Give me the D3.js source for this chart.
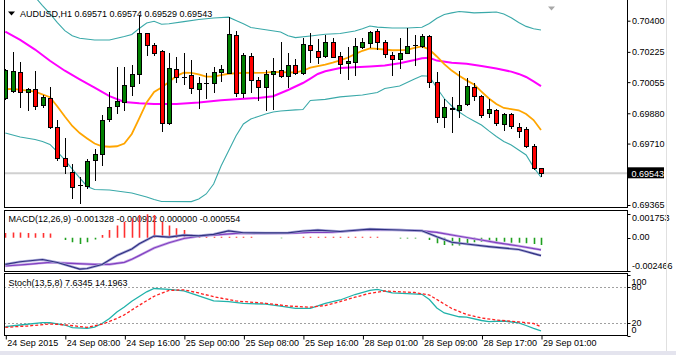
<!DOCTYPE html>
<html><head><meta charset="utf-8">
<script src="https://cdn.jsdelivr.net/npm/d3@7"></script>
<style>
body{margin:0;background:#fff;}
svg{display:block;}
text{font-family:"Liberation Sans",Arial,sans-serif;font-size:9px;fill:#000;}
</style>
</head><body>
<svg id="c" width="676" height="355"></svg>
<script>
// ---------- DATA ----------
const symbolTitle = "AUDUSD,H1 0.69571 0.69574 0.69529 0.69543";
const macdTitle = "MACD(12,26,9) -0.001328 -0.000902 0.000000 -0.000554";
const stochTitle = "Stoch(13,5,8) 7.6345 14.1963";

const openP = [0.69966,0.70007,0.70114,0.70001,0.70015,0.69927,0.69968,0.69805,0.69627,0.69549,
0.69476,0.69472,0.69618,0.69650,0.69846,0.69921,0.69945,0.70033,0.70099,0.70329,
0.70264,0.70232,0.69824,0.70131,0.70085,0.70093,0.70017,0.70052,0.70049,0.70112,
0.70108,0.70320,0.69992,0.70204,0.70067,0.70029,0.70099,0.70123,0.70091,0.70151,
0.70105,0.70264,0.70232,0.70204,0.70282,0.70202,0.70161,0.70170,0.70254,0.70277,
0.70344,0.70279,0.70207,0.70183,0.70220,0.70263,0.70258,0.70314,0.70058,0.69858,
0.69911,0.69899,0.69931,0.70029,0.69977,0.69880,0.69899,0.69820,0.69874,0.69805,
0.69792,0.69696,0.69571];
const highP = [0.70127,0.70226,0.70170,0.70022,0.70118,0.69983,0.70026,0.69842,0.69740,0.69595,
0.69524,0.69622,0.69678,0.69870,0.70001,0.70142,0.70142,0.70151,0.70432,0.70333,
0.70277,0.70236,0.70217,0.70195,0.70220,0.70179,0.70086,0.70105,0.70138,0.70151,
0.70419,0.70344,0.70220,0.70220,0.70086,0.70123,0.70189,0.70279,0.70217,0.70183,
0.70301,0.70333,0.70296,0.70320,0.70301,0.70226,0.70251,0.70301,0.70301,0.70344,
0.70352,0.70292,0.70226,0.70305,0.70357,0.70320,0.70325,0.70320,0.70114,0.69959,
0.69973,0.70119,0.70077,0.70052,0.69983,0.69959,0.69906,0.69883,0.69883,0.69824,
0.69801,0.69708,0.69574];
const lowP = [0.69960,0.70001,0.69917,0.69899,0.69903,0.69917,0.69796,0.69618,0.69546,0.69403,
0.69378,0.69459,0.69505,0.69590,0.69837,0.69880,0.69899,0.69983,0.70049,0.70207,
0.70207,0.69782,0.69820,0.70058,0.70045,0.69992,0.69908,0.69964,0.70001,0.70063,
0.70105,0.69977,0.69970,0.70001,0.69955,0.69899,0.69903,0.70086,0.70029,0.70101,
0.70101,0.70170,0.70164,0.70198,0.70195,0.70105,0.70071,0.70095,0.70245,0.70254,
0.70239,0.70198,0.70095,0.70133,0.70217,0.70151,0.70254,0.70026,0.69833,0.69805,
0.69777,0.69861,0.69927,0.69955,0.69858,0.69858,0.69814,0.69786,0.69796,0.69749,
0.69689,0.69566,0.69529];
const closeP = [0.70123,0.70119,0.70001,0.70017,0.69921,0.69970,0.69805,0.69627,0.69584,0.69464,
0.69476,0.69614,0.69651,0.69842,0.69917,0.69951,0.70039,0.70099,0.70329,0.70264,
0.70217,0.69824,0.70133,0.70086,0.70085,0.70020,0.70052,0.70052,0.70112,0.70127,
0.70325,0.69992,0.70207,0.70067,0.70029,0.70099,0.70118,0.70091,0.70151,0.70105,
0.70268,0.70236,0.70198,0.70282,0.70198,0.70157,0.70174,0.70258,0.70279,0.70338,
0.70282,0.70211,0.70183,0.70220,0.70258,0.70263,0.70314,0.70058,0.69858,0.69917,
0.69903,0.69927,0.70033,0.69977,0.69870,0.69903,0.69824,0.69874,0.69809,0.69782,
0.69696,0.69571,0.69543];
const lastPrice = 0.69543;

// indicator lines, read at sampled bar indices
const bbUpperBars = [4,5,6,7,8,9,10,12,14,16,17,18,19,20,21,22,24,26,28,30,31,32,33,35,37,38,39,41,43,45,47,48,49,50,52,54,56,57,58,59,60,61,62,63,65,66,67,68,69,70,71,72];
const bbUpper = [0.70533,0.70485,0.70440,0.70389,0.70344,0.70316,0.70301,0.70292,0.70292,0.70311,0.70323,0.70356,0.70387,0.70397,0.70380,0.70383,0.70395,0.70407,0.70415,0.70420,0.70401,0.70383,0.70362,0.70349,0.70337,0.70316,0.70305,0.70314,0.70324,0.70328,0.70342,0.70355,0.70370,0.70364,0.70359,0.70359,0.70363,0.70384,0.70414,0.70435,0.70444,0.70452,0.70448,0.70444,0.70447,0.70449,0.70438,0.70417,0.70390,0.70368,0.70355,0.70348];
const bbLowerBars = [0,2,4,5,6,7,8,9,10,11,12,14,16,17,19,20,21,25,26,27,28,29,30,31,32,33,34,35,36,37,39,40,41,43,45,48,50,51,53,55,56,57,58,59,60,61,62,63,64,65,66,67,68,69,70,71,72];
const bbLower = [0.69769,0.69747,0.69733,0.69722,0.69705,0.69663,0.69618,0.69567,0.69517,0.69469,0.69452,0.69449,0.69438,0.69432,0.69410,0.69396,0.69385,0.69384,0.69399,0.69427,0.69483,0.69584,0.69668,0.69753,0.69820,0.69848,0.69862,0.69876,0.69887,0.69893,0.69899,0.69901,0.69952,0.69958,0.69972,0.69983,0.69997,0.70019,0.70033,0.70073,0.70091,0.70088,0.70022,0.69963,0.69921,0.69887,0.69860,0.69837,0.69814,0.69781,0.69750,0.69722,0.69702,0.69674,0.69646,0.69578,0.69521];
const maFastBars = [0,1,3,4,6,7,8,9,10,11,12,13,14,15,16,17,18,19,20,21,22,23,24,25,26,27,28,29,30,32,35,36,38,39,40,41,42,43,44,45,46,47,48,49,50,52,54,55,56,57,58,59,60,61,62,63,64,65,66,67,68,69,70,71,72];
const maFast = [0.70015,0.70017,0.70007,0.70002,0.69970,0.69918,0.69862,0.69809,0.69769,0.69739,0.69710,0.69695,0.69692,0.69695,0.69710,0.69764,0.69851,0.69941,0.70000,0.70025,0.70056,0.70090,0.70108,0.70107,0.70098,0.70086,0.70086,0.70095,0.70102,0.70107,0.70108,0.70113,0.70110,0.70109,0.70119,0.70136,0.70145,0.70154,0.70164,0.70177,0.70192,0.70212,0.70231,0.70245,0.70242,0.70234,0.70236,0.70247,0.70256,0.70238,0.70199,0.70156,0.70120,0.70091,0.70065,0.70042,0.70002,0.69963,0.69932,0.69910,0.69904,0.69897,0.69876,0.69842,0.69786];
const maSlowBars = [0,2,4,6,8,10,12,14,16,18,20,23,26,29,31,34,36,38,40,41,42,43,45,47,49,51,53,55,56,57,58,60,62,64,66,68,69,70,71,72];
const maSlow = [0.70338,0.70292,0.70238,0.70175,0.70119,0.70071,0.70024,0.69976,0.69944,0.69936,0.69932,0.69932,0.69941,0.69953,0.69959,0.69966,0.69976,0.70011,0.70050,0.70075,0.70101,0.70116,0.70134,0.70139,0.70143,0.70148,0.70161,0.70179,0.70189,0.70192,0.70176,0.70164,0.70158,0.70145,0.70132,0.70114,0.70101,0.70084,0.70059,0.70033];

const macdHist = [0.00035,0.00037,0.00037,0.00035,0.00033,0.00035,0.00030,0,
-0.00017,-0.00035,-0.00047,-0.00035,-0.00013,
0.00020,0.00057,0.00089,0.00118,0.00143,0.00168,0.00172,0.00168,0.00118,0.00089,0.00069,0.00057,0.00024,
0.00007,0.00007,0.00007,0.00007,0.00007,0.00007,0.00007,0.00007,
0,0,0,-0.00004,0,0,
0.00006,0.00006,0.00006,0.00006,0.00006,0.00006,0.00006,0.00006,0.00006,0.00006,0.00006,
0,0,-0.00006,-0.00006,-0.00006,0,
-0.00017,-0.00042,-0.00054,-0.00059,-0.00059,-0.00042,-0.00035,-0.00030,-0.00030,-0.00030,-0.00030,-0.00037,-0.00037,-0.00042,-0.00047,-0.000554];
const macdMainBars = [0,2,5,7,10,11,13,15,17,18,20,22,24,26,28,30,32,35,38,40,42,45,49,53,56,58,60,62,65,69,70,71,72];
const macdMain = [-0.001973,-0.001781,-0.001618,-0.001840,-0.002320,-0.002283,-0.001988,-0.001323,-0.000842,-0.000458,0.000118,0.000037,0.000185,0.000133,0.000244,0.000502,0.000362,0.000347,0.000355,0.000488,0.000554,0.000451,0.000635,0.000562,0.000510,0.000067,-0.000340,-0.000473,-0.000665,-0.000879,-0.001027,-0.001182,-0.001328];
const macdSignalBars = [0,3,6,8,12,14,16,17,18,20,22,24,26,28,31,38,41,44,48,53,56,58,61,64,66,69,72];
const macdSignal = [-0.002098,-0.001973,-0.001825,-0.001877,-0.001973,-0.001973,-0.001825,-0.001603,-0.001330,-0.000768,-0.000377,-0.000066,0.000103,0.000192,0.000310,0.000318,0.000392,0.000392,0.000562,0.000562,0.000495,0.000392,0.000103,-0.000177,-0.000369,-0.000621,-0.000902];

const stochMainBars = [0,2,5,6,8,9,11,12,13,14,15,16,17,18,19,20,22,24,26,28,30,32,35,37,39,41,42,43,45,47,49,50,52,56,57,58,59,61,62,64,65,67,69,70,71,72];
const stochMain = [14.4,17.2,21.0,21.0,17.2,12.8,11.8,13.9,19.7,27.9,38.5,46.7,56.1,63.9,71.6,77.0,75.6,73.0,64.8,56.6,55.4,52.8,51.3,48.2,44.6,44.6,48.4,52.5,58.2,67.2,73.8,75.7,70.0,67.5,59.0,45.1,36.9,30.7,30.0,24.6,22.8,23.8,20.8,16.4,11.8,7.6345];
const stochSignalBars = [0,3,6,8,11,13,14,15,16,17,18,19,20,21,22,24,26,28,31,35,38,41,43,45,47,49,51,55,57,59,60,62,64,66,69,71,72];
const stochSignal = [13.4,15.6,18.9,17.5,13.4,18.5,23.0,27.9,33.9,41.8,49.5,57.0,64.3,69.3,73.8,74.9,69.7,63.6,56.6,52.8,48.4,46.4,49.2,55.6,62.8,69.2,73.0,70.5,66.4,51.6,44.3,34.4,28.7,25.4,22.3,19.7,14.1963];

const priceTicks = [0.70400,0.70225,0.70055,0.69880,0.69710,0.69365];
const macdTicks = [0.001753,0.00,-0.002466];
const macdTickLabels = ["0.001753","0.00","-0.002466"];
const stochLevels = [80,20];
const stochTicks = [100,80,20,0];
const timeTickBars = [0,8,16,24,32,40,48,56,64,72];
const timeTickLabels = ["24 Sep 2015","24 Sep 08:00","24 Sep 16:00","25 Sep 00:00","25 Sep 08:00","25 Sep 16:00","28 Sep 01:00","28 Sep 09:00","28 Sep 17:00","29 Sep 01:00"];

// ---------- LAYOUT ----------
const L = 4, R = 627;
const main = {top:0, bottom:208};
const macdP = {top:210.5, bottom:271.5};
const stochP = {top:273.5, bottom:335.5};

const svg = d3.select("#c");
const x = d3.scaleLinear().domain([0,72]).range([5.3,541]);
const yM = d3.scaleLinear().domain([0.69365,0.70400]).range([205,20.7]);
const yD = d3.scaleLinear().domain([-0.002466,0.001753]).range([271,213.9]);
const yS = d3.scaleLinear().domain([0,100]).range([335.5,274.5]);

const defs = svg.append("defs");
function clip(id, top, bottom){
  defs.append("clipPath").attr("id",id).append("rect")
    .attr("x",L+0.5).attr("y",top).attr("width",R-L-0.5).attr("height",bottom-top);
  return svg.append("g").attr("clip-path",`url(#${id})`);
}
const zip = (a,b)=>a.map((v,i)=>[v,b[i]]);

// ---- MAIN PANEL ----
const gM = clip("cm", main.top, main.bottom);
// price line
gM.append("line").attr("x1",L).attr("x2",R).attr("y1",yM(lastPrice)).attr("y2",yM(lastPrice))
  .attr("stroke","#d0d0d0").attr("stroke-width",2);
const lineM = d3.line().x(d=>x(d[0])).y(d=>yM(d[1]));
gM.append("path").attr("d",lineM(zip(bbUpperBars,bbUpper))).attr("fill","none").attr("stroke","#3aa9a9").attr("stroke-width",1.1);
gM.append("path").attr("d",lineM(zip(bbLowerBars,bbLower))).attr("fill","none").attr("stroke","#3aa9a9").attr("stroke-width",1.1);
gM.append("path").attr("d",lineM(zip(maSlowBars,maSlow))).attr("fill","none").attr("stroke","#ff00ff").attr("stroke-width",2);
gM.append("path").attr("d",lineM(zip(maFastBars,maFast))).attr("fill","none").attr("stroke","#ffa500").attr("stroke-width",1.8);

const bars = d3.range(openP.length);
const cg = gM.append("g");
bars.forEach(i=>{
  const cx = Math.round(x(i));
  cg.append("line").attr("x1",cx+0.5).attr("x2",cx+0.5)
    .attr("y1",Math.round(yM(highP[i]))).attr("y2",Math.round(yM(lowP[i]))+1)
    .attr("stroke","#000").attr("stroke-width",1);
  const yo = yM(openP[i]), yc = yM(closeP[i]);
  if (openP[i] === closeP[i]) {
    cg.append("line").attr("x1",cx-2).attr("x2",cx+3).attr("y1",Math.round(yo)+0.5).attr("y2",Math.round(yo)+0.5)
      .attr("stroke","#000").attr("stroke-width",1);
  } else {
    const t = Math.round(Math.min(yo,yc)), b = Math.round(Math.max(yo,yc));
    cg.append("rect").attr("x",cx-1.5).attr("y",t+0.5).attr("width",4).attr("height",Math.max(1,b-t))
      .attr("fill", closeP[i]>openP[i] ? "#008000" : "#ff0000")
      .attr("stroke","#000").attr("stroke-width",1);
  }
});

// title
svg.append("path").attr("d","M8,11.5 L15,11.5 L11.5,15.5 Z").attr("fill","#000");
svg.append("text").attr("x",20).attr("y",16.5).text(symbolTitle);
// chart shift marker
svg.append("path").attr("d","M548,6.5 L555,6.5 L551.5,10.5 Z").attr("fill","#a8a8a8");

// frames
svg.append("line").attr("x1",L+0.5).attr("x2",L+0.5).attr("y1",0).attr("y2",main.bottom).attr("stroke","#000");
svg.append("line").attr("x1",L).attr("x2",R+1).attr("y1",main.bottom-0.5).attr("y2",main.bottom-0.5).attr("stroke","#000");
svg.append("line").attr("x1",R+0.5).attr("x2",R+0.5).attr("y1",0).attr("y2",main.bottom).attr("stroke","#000");

// price axis
const axM = svg.append("g").attr("transform",`translate(${R+0.5},0)`)
  .call(d3.axisRight(yM).tickValues(priceTicks).tickFormat(d3.format(".5f")).tickSize(3));
axM.select(".domain").remove();
axM.selectAll("text").attr("x",4.5).style("font-family","Liberation Sans").style("font-size","9px");
// last price box
svg.append("rect").attr("x",R+1).attr("y",yM(lastPrice)-6).attr("width",36).attr("height",11).attr("fill","#000");
svg.append("text").attr("x",R+4.5).attr("y",yM(lastPrice)+3.3).attr("fill","#fff").style("fill","#fff").text(d3.format(".5f")(lastPrice));

// ---- MACD PANEL ----
svg.append("text").attr("x",8.5).attr("y",221.5).text(macdTitle);
const gD = clip("cd", macdP.top, macdP.bottom);
bars.forEach(i=>{
  const v = macdHist[i];
  if (!v) return;
  const cx = Math.round(x(i))+0.5;
  gD.append("line").attr("x1",cx).attr("x2",cx).attr("y1",yD(0)).attr("y2",yD(v))
    .attr("stroke", v>0 ? "#ff3030" : "#20a020").attr("stroke-width",1.6);
});
const lineD = d3.line().x(d=>x(d[0])).y(d=>yD(d[1]));
gD.append("path").attr("d",lineD(zip(macdSignalBars,macdSignal))).attr("fill","none").attr("stroke","#c8a8e8").attr("stroke-width",2.6);
gD.append("path").attr("d",lineD(zip(macdSignalBars,macdSignal))).attr("fill","none").attr("stroke","#8040c0").attr("stroke-width",1.2);
gD.append("path").attr("d",lineD(zip(macdMainBars,macdMain))).attr("fill","none").attr("stroke","#a8a8d8").attr("stroke-width",2.6);
gD.append("path").attr("d",lineD(zip(macdMainBars,macdMain))).attr("fill","none").attr("stroke","#303080").attr("stroke-width",1.2);
svg.append("rect").attr("x",L+0.5).attr("y",macdP.top).attr("width",R-L).attr("height",macdP.bottom-macdP.top)
  .attr("fill","none").attr("stroke","#000");
const macdLabelY = [217.5,236.7,266];
macdTicks.forEach((v,i)=>{
  svg.append("line").attr("x1",R+0.5).attr("x2",R+3.5).attr("y1",Math.round(yD(v))+0.5).attr("y2",Math.round(yD(v))+0.5).attr("stroke","#000");
  svg.append("text").attr("x",R+5).attr("y",macdLabelY[i]).attr("dy","0.35em").text(macdTickLabels[i]);
});

// ---- STOCH PANEL ----
svg.append("text").attr("x",8.5).attr("y",285.5).text(stochTitle);
const gS = clip("cs", stochP.top, stochP.bottom);
stochLevels.forEach(l=>{
  gS.append("line").attr("x1",L).attr("x2",R).attr("y1",Math.round(yS(l))+0.5).attr("y2",Math.round(yS(l))+0.5)
    .attr("stroke","#a0a0a0").attr("stroke-dasharray","2,2");
});
const lineS = d3.line().x(d=>x(d[0])).y(d=>yS(d[1]));
gS.append("path").attr("d",lineS(zip(stochMainBars,stochMain))).attr("fill","none").attr("stroke","#20b2aa").attr("stroke-width",1.3);
gS.append("path").attr("d",lineS(zip(stochSignalBars,stochSignal))).attr("fill","none").attr("stroke","#ff2020").attr("stroke-width",1.3).attr("stroke-dasharray","3,2");
svg.append("rect").attr("x",L+0.5).attr("y",stochP.top).attr("width",R-L).attr("height",stochP.bottom-stochP.top)
  .attr("fill","none").attr("stroke","#000");
const stochLabelY = [281.5,286.5,322.5,330];
stochTicks.forEach((v,i)=>{
  svg.append("line").attr("x1",R+0.5).attr("x2",R+3.5).attr("y1",Math.round(yS(v))+0.5).attr("y2",Math.round(yS(v))+0.5).attr("stroke","#000");
  svg.append("text").attr("x",R+4.5).attr("y",stochLabelY[i]).attr("dy","0.35em").text(String(v));
});

// ---- TIME AXIS ----
const axT = svg.append("g").attr("transform",`translate(0.5,${stochP.bottom})`)
  .call(d3.axisBottom(x).tickValues(timeTickBars).tickFormat((d,i)=>timeTickLabels[i]).tickSize(4));
axT.select(".domain").remove();
axT.selectAll("text").attr("text-anchor","start").attr("x",1).attr("y",4.5)
  .style("font-family","Liberation Sans").style("font-size","9px");

// window edges
svg.append("line").attr("x1",666.5).attr("x2",666.5).attr("y1",0).attr("y2",351).attr("stroke","#e0e0e0");
svg.append("rect").attr("x",0).attr("y",351).attr("width",676).attr("height",4).attr("fill","#e4e4ee");
</script>
</body></html>
